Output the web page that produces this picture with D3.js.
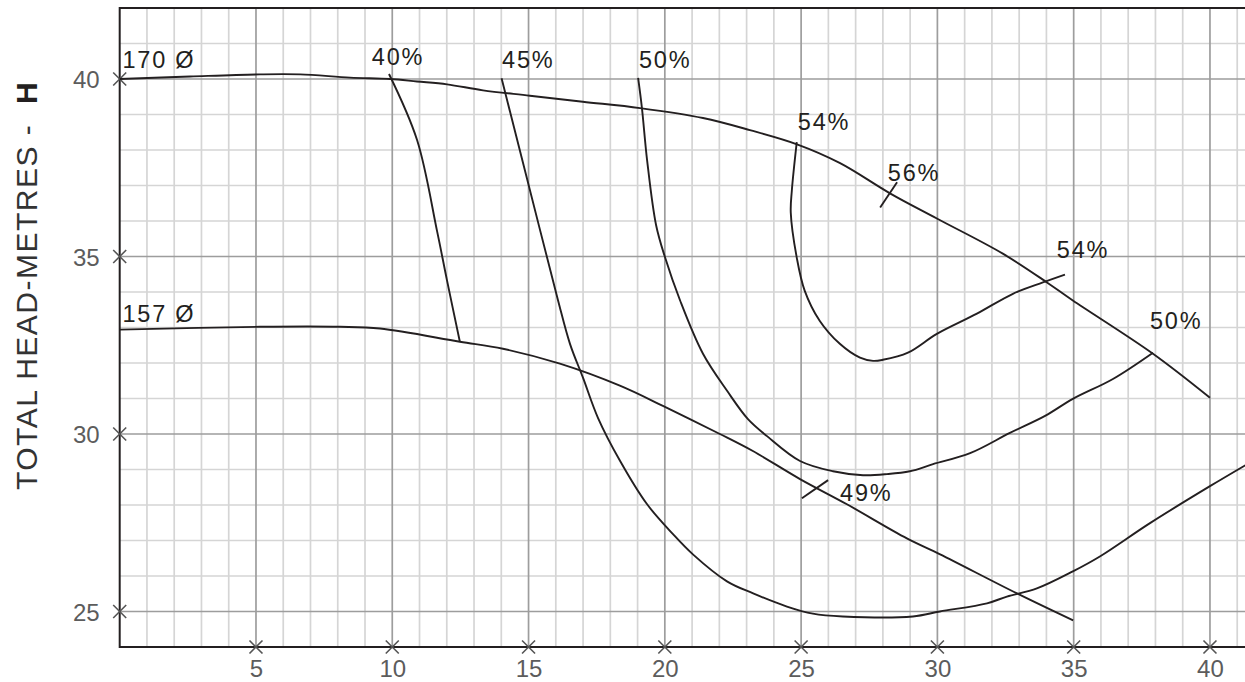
<!DOCTYPE html>
<html>
<head>
<meta charset="utf-8">
<script src="https://cdn.jsdelivr.net/npm/d3@7"></script>
<style>
  html, body { margin: 0; padding: 0; background: #ffffff; }
  svg { display: block; }
  text { font-family: "Liberation Sans", Arial, Helvetica, sans-serif; }
</style>
</head>
<body>
<svg id="chart" width="1245" height="682"></svg>
<script>
// ---------- data (flow, head) ----------
const xTicks = [5, 10, 15, 20, 25, 30, 35, 40];
const yTicks = [25, 30, 35, 40];

const curve170 = [[0,40.0],[2.58,40.07],[5.15,40.13],[6.62,40.13],[8.45,40.04],[9.92,40.0],[10.91,39.93],[12.01,39.85],[13.33,39.68],[15.05,39.53],[16.99,39.36],[19.09,39.18],[21.4,38.9],[23.12,38.56],[24.85,38.16],[26.43,37.63],[28.26,36.78],[29.98,36.07],[32.4,35.08],[34.02,34.27],[34.97,33.76],[37.91,32.26],[40.0,31.02]];

const curve157 = [[0,32.94],[5.15,33.02],[8.08,33.02],[9.55,32.97],[12.48,32.6],[14.06,32.4],[16.15,31.98],[18.35,31.36],[19.93,30.79],[22.02,30.0],[23.23,29.52],[24.96,28.73],[26.68,28.02],[28.88,27.06],[30.1,26.61],[32.92,25.51],[34.98,24.75]];

const eff40 = [[9.88,40.14],[10.91,38.28],[11.64,35.73],[12.01,34.32],[12.48,32.6]];

const eff45 = [[14.01,40.02],[15.42,35.75],[16.08,33.77],[16.52,32.54],[17.0,31.58],[17.55,30.45],[18.36,29.24],[19.35,28.02],[20.3,27.18],[21.03,26.61],[22.28,25.85],[23.24,25.51],[24.48,25.14],[25.43,24.94],[26.53,24.86],[29.1,24.86],[30.09,25.0],[31.82,25.23],[32.55,25.42],[33.65,25.65],[34.97,26.13],[35.96,26.55],[37.8,27.49],[40.0,28.53],[41.3,29.12]];

const eff50 = [[19.02,40.03],[19.16,39.18],[19.35,37.71],[19.68,35.88],[20.01,34.97],[20.56,33.76],[21.4,32.26],[22.29,31.21],[23.05,30.42],[23.75,29.94],[24.96,29.24],[26.17,28.95],[27.27,28.84],[28.15,28.87],[28.99,28.95],[29.84,29.15],[31.2,29.46],[32.66,30.03],[33.95,30.51],[34.97,30.99],[36.44,31.55],[37.91,32.29]];

const eff54 = [[24.84,38.22],[24.66,36.86],[24.62,36.24],[24.84,34.97],[25.13,34.04],[25.68,33.19],[26.42,32.54],[27.16,32.15],[27.64,32.06],[28.0,32.09],[28.92,32.29],[29.98,32.82],[31.45,33.39],[32.77,33.95],[33.87,34.27],[34.68,34.49]];

const tick56 = [[27.9,36.38],[28.52,37.09]];
const tick49 = [[25.03,28.19],[25.99,28.7]];

const labelTexts = ["170 Ø", "157 Ø", "40%", "45%", "50%", "54%", "56%", "54%", "50%", "49%"];
const labelX =     [0.1,     0.1,     9.25,  14.03, 19.05, 24.88, 28.18, 34.38, 37.8,  26.43];
const labelY =     [40.31,   33.16,   40.4,  40.31, 40.31, 38.56, 37.12, 34.97, 32.97, 28.11];

// ---------- layout ----------
const svg = d3.select("#chart");
const x = d3.scaleLinear().domain([0, 41.3]).range([119.7, 1245.4]);
const y = d3.scaleLinear().domain([24, 42]).range([647, 8]);

const INK = "#231f20";

// grid
const gx = d3.range(1, 42);
const gy = d3.range(25, 42);
const grid = svg.append("g");
grid.selectAll("line.vx").data(gx.filter(d => d % 5 !== 0)).join("line")
  .attr("x1", d => x(d)).attr("x2", d => x(d)).attr("y1", y(42)).attr("y2", y(24))
  .attr("stroke", "#d5d5d5").attr("stroke-width", 1.7);
grid.selectAll("line.hy").data(gy.filter(d => d % 5 !== 0)).join("line")
  .attr("y1", d => y(d)).attr("y2", d => y(d)).attr("x1", x(0)).attr("x2", 1245)
  .attr("stroke", "#d5d5d5").attr("stroke-width", 1.7);
const grid2 = svg.append("g");
grid2.selectAll("line").data(gx.filter(d => d % 5 === 0)).join("line")
  .attr("x1", d => x(d)).attr("x2", d => x(d)).attr("y1", y(42)).attr("y2", y(24))
  .attr("stroke", "#9d9d9d").attr("stroke-width", 1.7);
const grid3 = svg.append("g");
grid3.selectAll("line").data(gy.filter(d => d % 5 === 0)).join("line")
  .attr("y1", d => y(d)).attr("y2", d => y(d)).attr("x1", x(0)).attr("x2", 1245)
  .attr("stroke", "#9d9d9d").attr("stroke-width", 1.7);

// frame (left, bottom, top)
svg.append("line").attr("x1", x(0)).attr("x2", 1245).attr("y1", y(42)).attr("y2", y(42))
  .attr("stroke", INK).attr("stroke-width", 2);
svg.append("line").attr("x1", x(0)).attr("x2", 1245).attr("y1", y(24)).attr("y2", y(24))
  .attr("stroke", INK).attr("stroke-width", 2);
svg.append("line").attr("x1", x(0)).attr("x2", x(0)).attr("y1", y(42) - 1).attr("y2", y(24) + 1)
  .attr("stroke", INK).attr("stroke-width", 2);

// axes (labels via d3 axes)
const xAxis = d3.axisBottom(x).tickValues(xTicks).tickSize(0).tickPadding(20).tickFormat(d3.format("d"));
const gxa = svg.append("g").attr("transform", `translate(0,${y(24)})`).call(xAxis);
gxa.select(".domain").remove();
gxa.selectAll("text").attr("font-size", 24).attr("fill", "#5c5c5c")
  .attr("font-family", "'Liberation Sans', Arial, sans-serif").attr("dy", "0.71em").attr("y", 13);

const yAxis = d3.axisLeft(y).tickValues(yTicks).tickSize(0).tickPadding(20).tickFormat(d3.format("d"));
const gya = svg.append("g").attr("transform", `translate(${x(0)},0)`).call(yAxis);
gya.select(".domain").remove();
gya.selectAll("text").attr("font-size", 24).attr("fill", "#5c5c5c")
  .attr("font-family", "'Liberation Sans', Arial, sans-serif").attr("dy", "0.36em").attr("x", -20);

// × tick marks
const cross = (cx, cy, r) => `M${cx - r},${cy - r}L${cx + r},${cy + r}M${cx - r},${cy + r}L${cx + r},${cy - r}`;
svg.append("g").selectAll("path").data(xTicks).join("path")
  .attr("d", d => cross(x(d), y(24), 6.5)).attr("stroke", "#555").attr("stroke-width", 1.6).attr("fill", "none");
svg.append("g").selectAll("path").data(yTicks).join("path")
  .attr("d", d => cross(x(0), y(d), 6.5)).attr("stroke", "#555").attr("stroke-width", 1.6).attr("fill", "none");

// curves
const line = d3.line().x(d => x(d[0])).y(d => y(d[1])).curve(d3.curveCatmullRom.alpha(0.5));
const lin = d3.line().x(d => x(d[0])).y(d => y(d[1]));
const curves = svg.append("g").attr("fill", "none").attr("stroke", INK).attr("stroke-width", 1.9);
[curve170, curve157, eff40, eff45, eff50, eff54].forEach(c => curves.append("path").attr("d", line(c)));
[tick56, tick49].forEach(c => curves.append("path").attr("d", lin(c)));

// labels
svg.append("g").selectAll("text").data(labelTexts).join("text")
  .attr("x", (d, i) => x(labelX[i])).attr("y", (d, i) => y(labelY[i]))
  .attr("font-size", 23.5).attr("letter-spacing", 1.8).attr("fill", INK)
  .style("white-space", "pre")
  .text(d => d);

// y title
const title = svg.append("text")
  .attr("transform", "translate(37,490) rotate(-90)")
  .attr("font-size", 30).attr("letter-spacing", 1.5)
  .style("white-space", "pre");
title.append("tspan").attr("fill", "#333").text("TOTAL HEAD-METRES -  ");
title.append("tspan").attr("fill", INK).attr("font-weight", "bold").text("H");
</script>
</body>
</html>
